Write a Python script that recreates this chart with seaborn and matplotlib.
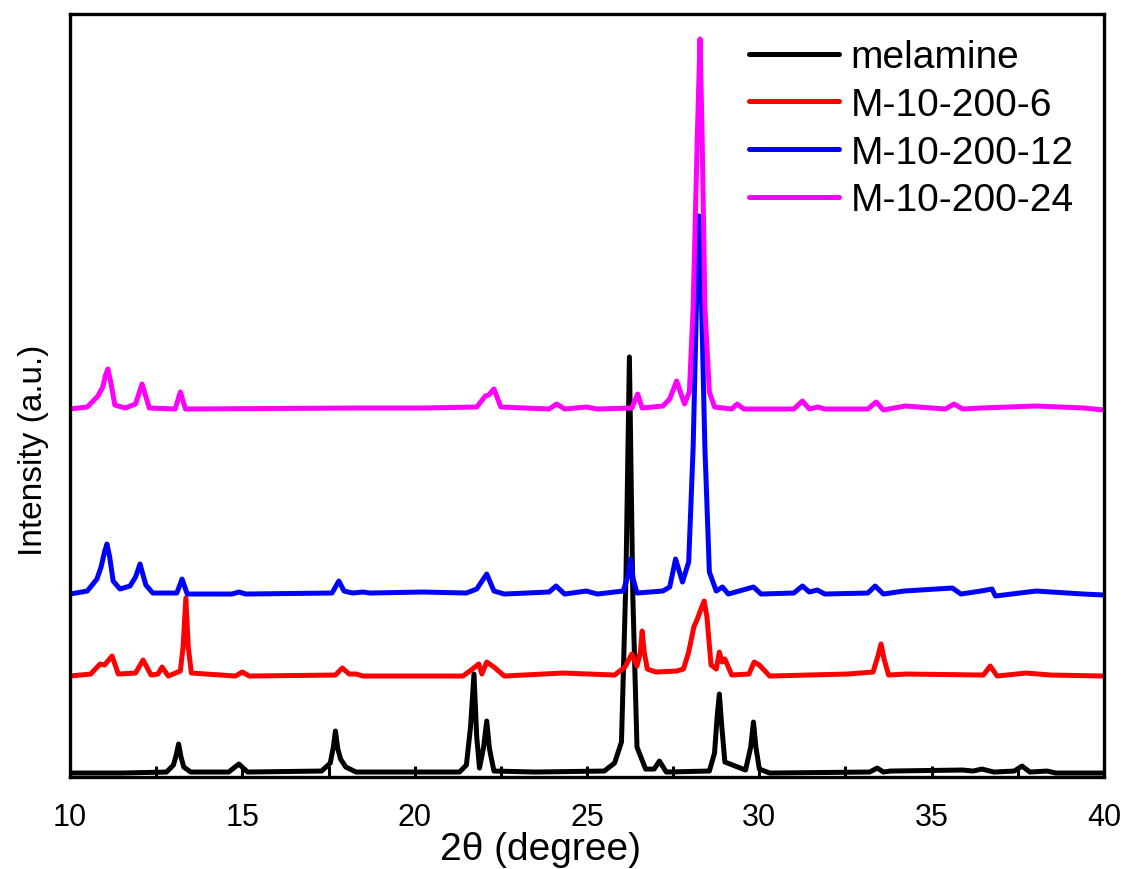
import numpy as np
import pandas as pd
import matplotlib
matplotlib.use("Agg")
import matplotlib.pyplot as plt
from matplotlib.ticker import MultipleLocator
import seaborn as sns

# --- XRD patterns (2theta in degree, intensity in a.u., already offset) ---
mel_x = [10.0, 11.5, 12.8, 13.0, 13.08, 13.15, 13.22, 13.3, 13.5, 14.6, 14.9, 15.15, 17.3, 17.55,
         17.64, 17.7, 17.77, 17.85, 18.0, 18.3, 21.3, 21.5, 21.62, 21.72, 21.8, 21.88, 22.0, 22.09,
         22.17, 22.3, 23.5, 25.5, 25.8, 26.0, 26.13, 26.23, 26.33, 26.45, 26.7, 26.95, 27.1, 27.3,
         28.55, 28.7, 28.78, 28.84, 28.9, 29.0, 29.6, 29.75, 29.83, 29.9, 30.0, 30.3, 33.2, 33.42,
         33.6, 33.8, 35.9, 36.2, 36.46, 36.8, 37.4, 37.62, 37.85, 38.35, 38.6, 40.0]
mel_y = [4, 4, 5, 12, 22, 33, 20, 10, 5, 5, 13, 5, 6, 14,
         30, 46, 28, 18, 10, 5, 5, 12, 50, 103, 40, 9, 30, 56,
         28, 6, 5, 6, 14, 35, 200, 420, 180, 30, 8, 8, 16, 5,
         6, 24, 62, 83, 55, 15, 7, 30, 55, 30, 8, 4, 5, 9,
         5, 6, 7, 6, 8, 5, 6, 11, 5, 6, 4, 4]

m6_x = [10.0, 10.6, 10.87, 11.0, 11.22, 11.4, 11.9, 12.12, 12.35, 12.55, 12.67, 12.85, 13.2, 13.28,
        13.36, 13.43, 13.52, 14.8, 15.0, 15.2, 17.7, 17.9, 18.1, 18.3, 18.5, 21.4, 21.6, 21.86,
        21.95, 22.09, 22.3, 22.6, 24.3, 25.8, 26.1, 26.3, 26.45, 26.55, 26.6, 26.66, 26.75, 27.0,
        27.6, 27.8, 27.95, 28.1, 28.2, 28.33, 28.4, 28.48, 28.6, 28.75, 28.84, 28.92, 29.0, 29.2,
        29.7, 29.85, 30.0, 30.3, 32.55, 33.3, 33.45, 33.53, 33.62, 33.75, 34.26, 36.5, 36.7, 36.9,
        37.74, 38.46, 40.0]
m6_y = [101, 103, 113, 112, 121, 103, 104, 117, 102, 103, 110, 101, 106, 130,
        179, 130, 104, 101, 105, 101, 102, 109, 103, 103, 101, 101, 106, 113,
        103, 115, 110, 101, 104, 102, 110, 123, 111, 125, 146, 125, 108, 105,
        106, 108, 125, 150, 158, 170, 176, 160, 112, 108, 125, 115, 118, 102,
        103, 115, 112, 101, 103, 105, 122, 133, 118, 102, 103, 102, 111, 101,
        104, 102, 101]

m12_x = [10.0, 10.5, 10.78, 10.9, 11.0, 11.07, 11.15, 11.25, 11.45, 11.74, 11.9, 12.03, 12.2, 12.4,
         13.1, 13.25, 13.4, 14.7, 14.9, 15.1, 17.6, 17.8, 17.95, 18.2, 18.5, 18.7, 20.23, 21.5,
         21.8, 22.09, 22.3, 22.6, 23.9, 24.1, 24.35, 24.98, 25.3, 26.05, 26.18, 26.26, 26.34, 26.45,
         27.2, 27.4, 27.57, 27.77, 27.95, 28.08, 28.18, 28.25, 28.32, 28.42, 28.55, 28.75, 28.93,
         29.1, 29.83, 30.05, 31.0, 31.25, 31.45, 31.68, 31.9, 33.15, 33.36, 33.6, 34.2, 35.6, 35.85,
         36.43, 36.75, 36.85, 38.03, 39.4, 40.0]
m12_y = [183, 186, 198, 210, 225, 233, 220, 196, 188, 191, 200, 213, 192, 184,
         184, 198, 183, 183, 185, 183, 184, 196, 186, 184, 185, 184, 185, 184,
         188, 203, 186, 183, 185, 191, 183, 186, 183, 186, 200, 218, 198, 184,
         186, 190, 218, 195, 215, 330, 480, 561, 480, 330, 205, 186, 190,
         183, 190, 183, 184, 191, 185, 187, 183, 184, 191, 183, 186, 189, 183,
         186, 188, 181, 186, 183, 182]

m24_x = [10.0, 10.5, 10.81, 10.95, 11.03, 11.1, 11.18, 11.3, 11.6, 11.9, 12.09, 12.3, 13.05, 13.2,
         13.35, 18.4, 20.23, 21.8, 22.05, 22.15, 22.3, 22.5, 23.9, 24.12, 24.35, 24.98, 25.3, 26.3,
         26.47, 26.6, 27.2, 27.4, 27.6, 27.83, 27.97, 28.08, 28.2, 28.28, 28.34, 28.42, 28.55, 28.7,
         29.2, 29.36, 29.55, 31.0, 31.25, 31.45, 31.7, 31.9, 33.15, 33.39, 33.6, 34.23, 35.4, 35.65,
         35.9, 36.43, 38.03, 39.42, 40.0]
m24_y = [368, 370, 381, 390, 402, 408, 395, 372, 369, 373, 393, 369, 368, 385,
         368, 369, 369, 370, 381, 382, 388, 370, 368, 373, 368, 370, 368, 369,
         383, 369, 371, 378, 396, 373, 385, 470, 640, 738, 640, 470, 385, 370,
         368, 373, 368, 368, 376, 368, 370, 368, 368, 375, 367, 371, 368, 373,
         368, 369, 371, 369, 367]

labels = ["melamine", "M-10-200-6", "M-10-200-12", "M-10-200-24"]
colors = ["#000000", "#ff0000", "#0000ff", "#ff00ff"]

frames = []
for lab, xs, ys in zip(labels, [mel_x, m6_x, m12_x, m24_x], [mel_y, m6_y, m12_y, m24_y]):
    frames.append(pd.DataFrame({"two_theta": xs, "intensity": ys, "sample": lab}))
df = pd.concat(frames, ignore_index=True)

# --- plotting ---
sns.set_theme(style="ticks")
plt.rcParams['font.family'] = ['Liberation Sans', 'DejaVu Sans']
plt.rcParams['text.color'] = 'black'

fig = plt.figure(figsize=(11.28, 8.7), dpi=100)
ax = fig.add_axes([0.0621, 0.1057, 0.9166, 0.8771])

sns.lineplot(data=df, x="two_theta", y="intensity", hue="sample", hue_order=labels,
             palette=colors, estimator=None, sort=False, linewidth=3.6, ax=ax)

ax.set_xlim(10, 40)
ax.set_ylim(0, 763)
ax.xaxis.set_major_locator(MultipleLocator(5))
ax.xaxis.set_minor_locator(MultipleLocator(2.5))
ax.set_yticks([])
ax.tick_params(axis="x", which="both", direction="in", length=8, width=2.2,
               top=False, labelsize=22, pad=18, colors="black")
for sp in ax.spines.values():
    sp.set_linewidth(2.4)
    sp.set_color("black")

ax.set_xlabel("2θ (degree)", fontsize=28, color="black", va="baseline")
ax.xaxis.set_label_coords(0.455, -0.1075)
ax.set_ylabel("Intensity (a.u.)", fontsize=24, color="black")
ax.yaxis.set_label_coords(-0.02, 0.43)

handles, _ = ax.get_legend_handles_labels()
leg = ax.legend(handles, labels, loc="upper right", frameon=False, fontsize=28,
                handlelength=2.3, handletextpad=0.3, labelspacing=0.3,
                borderaxespad=0.25, bbox_to_anchor=(0.995, 1.0))
for line in leg.get_lines():
    line.set_linewidth(3.6)
for t in leg.get_texts():
    t.set_color("black")

plt.savefig("out.png", dpi=100)
